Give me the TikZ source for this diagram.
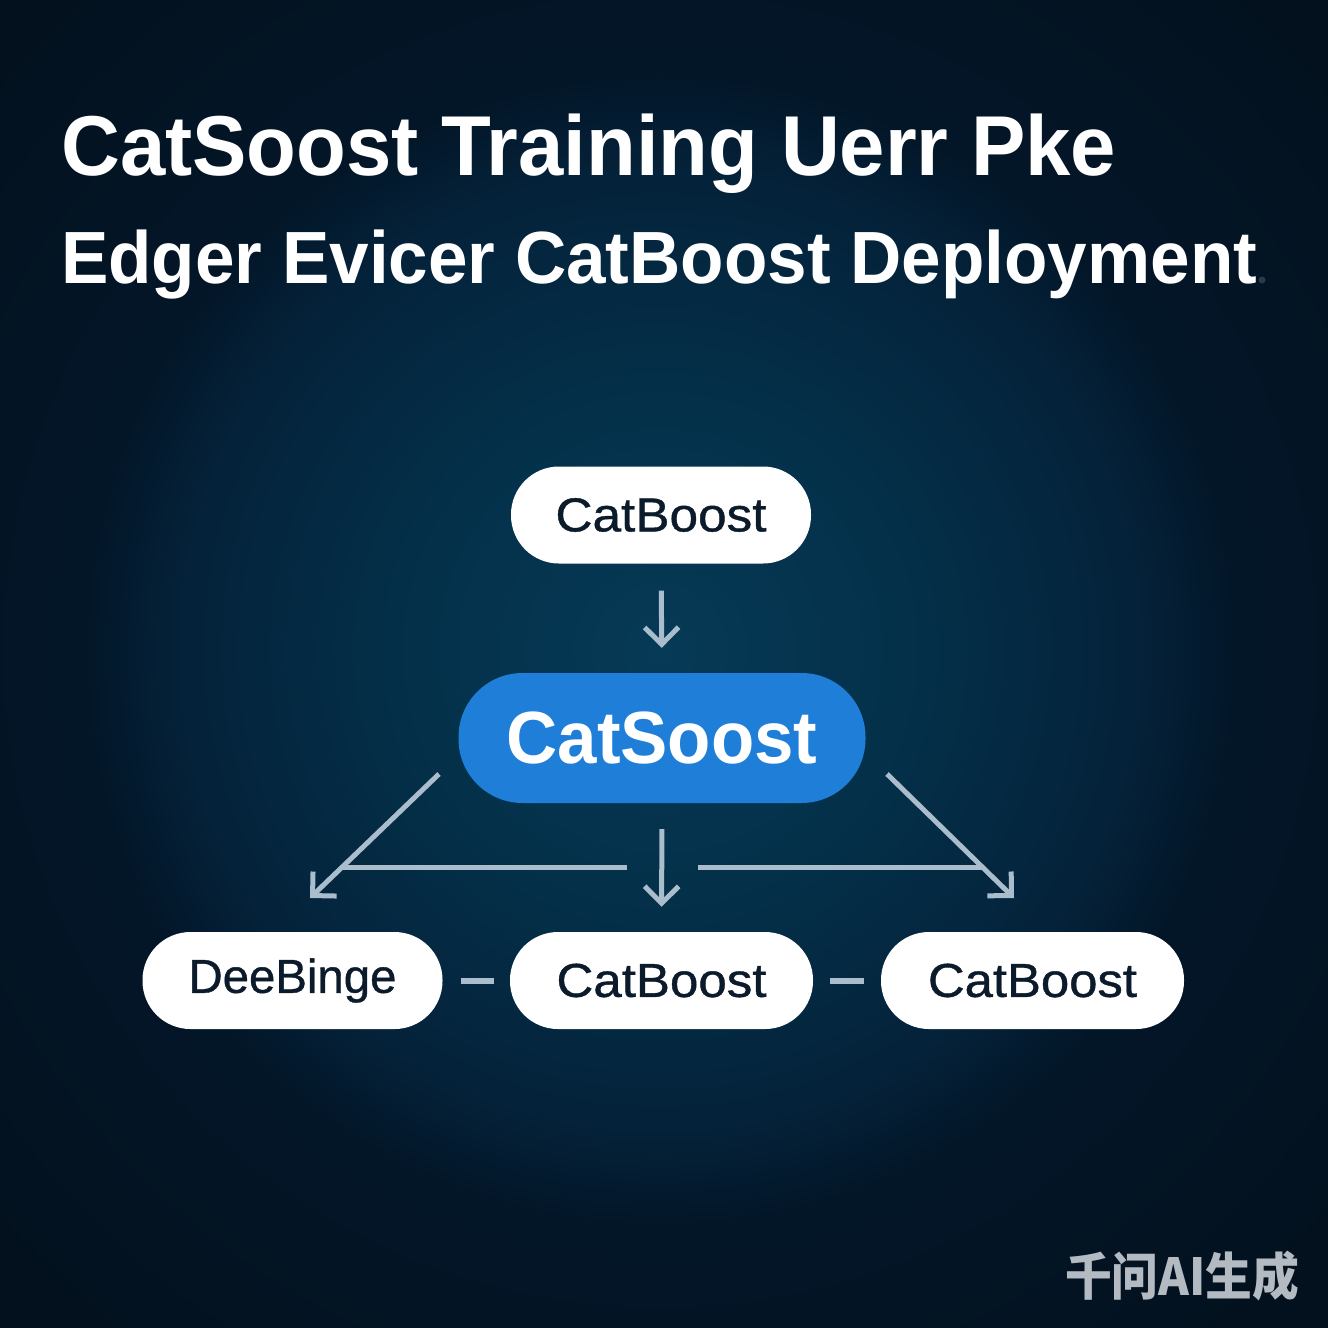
\documentclass[tikz,border=0pt]{standalone}
\usepackage{fontspec}
\usepackage{graphicx}
\setmainfont{Liberation Sans}
\newfontfamily\cjk{Noto Sans CJK SC}
\newfontfamily\nodefont[FakeBold=0.8]{Liberation Sans}
\usetikzlibrary{arrows.meta,calc}
\definecolor{bgA}{HTML}{063A56}
\definecolor{bgB}{HTML}{042F48}
\definecolor{bgC}{HTML}{04223A}
\definecolor{bgD}{HTML}{031628}
\definecolor{bgouter}{HTML}{03111E}
\definecolor{linec}{HTML}{A9BDCC}
\definecolor{pillblue}{HTML}{1F7FD8}
\definecolor{darktext}{HTML}{0C1B2B}
\definecolor{wmark}{HTML}{B3BAC2}
\definecolor{dotc}{HTML}{2B3A4A}
\pgfdeclareradialshading{bgshade}{\pgfpoint{0bp}{0bp}}{color(0bp)=(bgA); color(7.5bp)=(bgB); color(13.3bp)=(bgC); color(16bp)=(bgD); color(25bp)=(bgouter); color(50bp)=(bgouter)}
\newcommand{\fitw}[2]{\resizebox{#1}{\height}{#2}}
\tikzset{
  whitepill/.style={rectangle, rounded corners=48pt, fill=white, minimum width=300pt, minimum height=97pt, inner sep=0pt, text=darktext, font=\nodefont\fontsize{47.6pt}{50pt}\selectfont},
  bluepill/.style={rectangle, rounded corners=64pt, fill=pillblue, minimum width=407pt, minimum height=130pt, inner sep=0pt, text=white, font=\fontsize{74pt}{78pt}\selectfont\bfseries},
  conn/.style={draw=linec, line width=5pt},
  arr/.style={conn, -{Straight Barb[length=17pt,width=34pt]}},
  dashconn/.style={draw=linec, line width=6pt},
  titletext/.style={anchor=base west, inner sep=0pt, text=white}
}
\begin{document}
\begin{tikzpicture}[x=1pt,y=-1pt]
\useasboundingbox (0,0) rectangle (1328,1328);
\fill[bgouter] (0,0) rectangle (1328,1328);
\begin{scope}
\clip (0,0) rectangle (1328,1328);
\shade[shading=bgshade] (660,650) circle (900);
\end{scope}

% title
\node[titletext, font=\fontsize{85pt}{90pt}\selectfont\bfseries] (t1) at (61,175) {\fitw{1055pt}{CatSoost Training Uerr Pke}};
\node[titletext, font=\fontsize{74pt}{80pt}\selectfont\bfseries] (t2) at (61,283) {\fitw{1196pt}{Edger Evicer CatBoost Deployment}};
\fill[dotc] (1262,280) circle (3.5);

% nodes
\node[whitepill] (top) at (661,515) {\fitw{211pt}{CatBoost}};
\node[bluepill] (mid) at (662,738) {\fitw{311pt}{CatSoost}};
\node[whitepill] (b1) at (292.5,980.5) {\fitw{208pt}{DeeBinge}};
\node[whitepill, minimum width=303pt] (b2) at (661.5,980.5) {\fitw{210pt}{CatBoost}};
\node[whitepill, minimum width=303pt] (b3) at (1032.5,980.5) {\fitw{209pt}{CatBoost}};

% coordinates
\coordinate (dlS) at (439,774);
\coordinate (dlE) at (310,898);
\coordinate (drS) at (887,774);
\coordinate (drE) at (1014,898);
\coordinate (hl1) at (341,867);
\coordinate (hl2) at (627,867);
\coordinate (hr1) at (698,867);
\coordinate (hr2) at (982,867);

% connectors
\draw[arr, shorten <=27pt, shorten >=25pt] (top.south) -- (mid.north);
\draw[arr, shorten <=26pt, shorten >=25pt] (mid.south) -- (b2.north);
\draw[arr] (dlS) -- (dlE);
\draw[arr] (drS) -- (drE);
\draw[conn] (hl1) -- (hl2);
\draw[conn] (hr1) -- (hr2);
\draw[dashconn, shorten <=18pt, shorten >=16pt] (b1.east) -- (b2.west);
\draw[dashconn, shorten <=17pt, shorten >=17pt] (b2.east) -- (b3.west);

% watermark
\node[inner sep=0pt, text=wmark, font=\cjk\bfseries\fontsize{51pt}{55pt}\selectfont] (wm) at (1182,1276) {\fitw{234pt}{千问AI生成}};
\end{tikzpicture}
\end{document}
